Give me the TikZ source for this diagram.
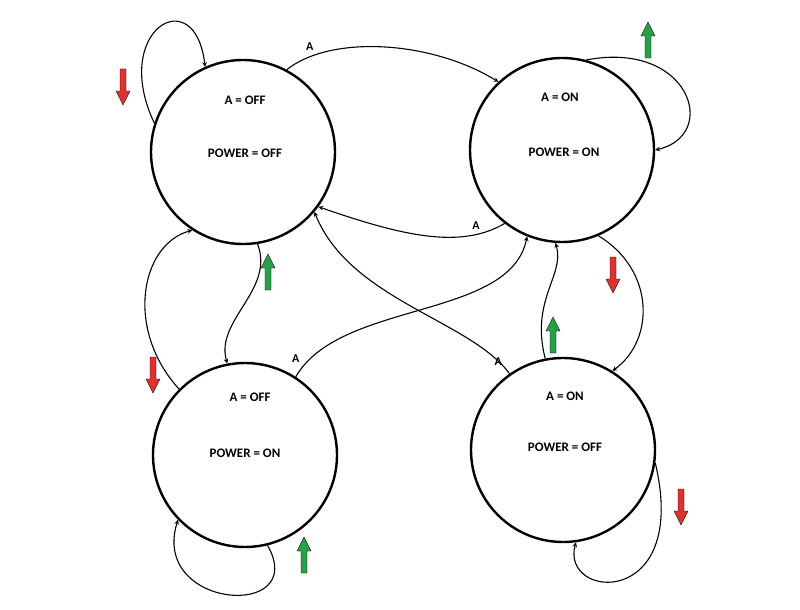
\documentclass[tikz,border=0pt]{standalone}
\usepackage{fontspec}
\setmainfont{Carlito}
\begin{document}
\begin{tikzpicture}[x=1pt,y=-1pt,
  st/.style={circle,draw,line width=2.4pt,minimum size=184pt,inner sep=0pt},
  txt/.style={font=\bfseries\fontsize{13}{15}\selectfont},
  con/.style={->,>=stealth,line width=1.1pt},
  lbl/.style={font=\bfseries\fontsize{12}{14}\selectfont},
  redf/.style={fill={rgb,255:red,220;green,50;blue,50},draw=black,thin},
  grnf/.style={fill={rgb,255:red,40;green,160;blue,70},draw=black,thin}]
\useasboundingbox (0,0) rectangle (800,610);
\node[st] (tl) at (243,152) {};
\node[st] (tr) at (562,150) {};
\node[st] (bl) at (245,455) {};
\node[st] (br) at (563,450) {};
\node[txt] (tla) at (245,100) {A = OFF};
\node[txt] (tlp) at (245,153) {POWER = OFF};
\node[txt] (tra) at (560,97) {A = ON};
\node[txt] (trp) at (564,152) {POWER = ON};
\node[txt] (bla) at (250,397) {A = OFF};
\node[txt] (blp) at (245,453) {POWER = ON};
\node[txt] (bra) at (565,396) {A = ON};
\node[txt] (brp) at (565,447) {POWER = OFF};
\draw[con] (tl.162) .. controls (110,30) and (195,-20) .. (tl.114);
\draw[con] (tl.62) .. controls (330,35) and (430,40) .. node[lbl,pos=0.15,above=2pt]{A} (tr.133);
\draw[con] (tr.75) .. controls (690,40) and (720,135) .. (tr.0);
\draw[con] (tr.232) .. controls (460,250) and (400,235) .. node[lbl,pos=0.2,above=1pt]{A} (tl.324);
\draw[con] (tl.279) .. controls (275,290) and (215,320) .. (bl.101);
\draw[con] (bl.135) .. controls (125,330) and (140,245) .. (tl.237);
\draw[con] (bl.57) .. controls (340,300) and (510,320) .. node[lbl,pos=0.05,above left]{A} (tr.248);
\draw[con] (br.125) .. controls (470,320) and (350,300) .. node[lbl,pos=0.03,above left]{A} (tl.320);
\draw[con] (tr.293) .. controls (655,270) and (655,340) .. (br.58);
\draw[con] (br.101) .. controls (530,300) and (565,275) .. (tr.266);
\draw[con] (bl.284) .. controls (310,620) and (150,610) .. (bl.224);
\draw[con] (br.352) .. controls (690,610) and (560,600) .. (br.278);
\newcommand\dnarr[3]{\draw[#3,shift={(#1,#2)}] (-3,0)--(3,0)--(3,22)--(7,22)--(0,36)--(-7,22)--(-3,22)--cycle;}
\newcommand\uparr[3]{\draw[#3,shift={(#1,#2)}] (-3,36)--(3,36)--(3,14)--(7,14)--(0,0)--(-7,14)--(-3,14)--cycle;}
\dnarr{123}{69}{redf}
\dnarr{153}{357}{redf}
\dnarr{613}{257}{redf}
\dnarr{681}{489}{redf}
\uparr{648}{22}{grnf}
\uparr{268}{254}{grnf}
\uparr{553}{317}{grnf}
\uparr{304}{537}{grnf}
\end{tikzpicture}
\end{document}
